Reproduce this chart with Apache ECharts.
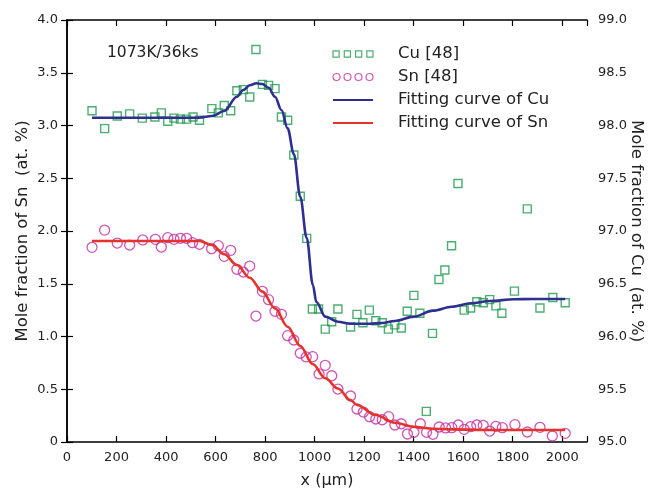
<!DOCTYPE html>
<html>
<head>
<meta charset="utf-8">
<script src="https://cdn.jsdelivr.net/npm/echarts@6/dist/echarts.min.js"></script>
<style>html,body{margin:0;padding:0;background:#fff}#c{width:650px;height:488px}</style>
</head>
<body>
<div id="c"></div>
<script>
// ---- data ----
const cuX = [101,152,203,253,304,355,381,407,432,458,483,509,535,585,611,635,661,686,712,738,763,789,814,840,866,891,916,942,968,991,1016,1043,1069,1094,1145,1171,1195,1221,1247,1273,1298,1324,1350,1374,1401,1425,1451,1476,1502,1526,1553,1579,1604,1630,1655,1681,1707,1732,1756,1807,1859,1910,1962,2012];
const cuY = [98.14,97.97,98.09,98.11,98.07,98.08,98.12,98.04,98.07,98.06,98.06,98.08,98.05,98.16,98.12,98.19,98.14,98.33,98.34,98.27,98.72,98.39,98.38,98.35,98.08,98.05,97.72,97.33,96.93,96.26,96.26,96.07,96.14,96.26,96.09,96.21,96.13,96.25,96.15,96.13,96.07,96.11,96.08,96.24,96.39,96.22,95.29,96.03,96.54,96.63,96.86,97.45,96.25,96.27,96.33,96.32,96.35,96.29,96.22,96.43,97.21,96.27,96.37,96.32];
const snX = [101,152,203,253,306,357,381,407,432,458,483,507,535,584,611,635,661,686,712,738,763,789,814,840,866,891,916,942,966,992,1018,1043,1069,1094,1145,1171,1197,1222,1247,1273,1299,1324,1350,1375,1401,1427,1452,1478,1503,1529,1554,1580,1604,1630,1655,1681,1707,1732,1758,1809,1859,1910,1960,2012];
const snY = [1.845,2.009,1.886,1.867,1.915,1.921,1.848,1.937,1.921,1.931,1.931,1.889,1.874,1.832,1.861,1.760,1.817,1.637,1.611,1.668,1.194,1.428,1.349,1.239,1.210,1.008,0.967,0.841,0.806,0.809,0.645,0.727,0.628,0.502,0.436,0.313,0.284,0.240,0.218,0.211,0.240,0.161,0.173,0.076,0.092,0.173,0.092,0.073,0.142,0.133,0.136,0.161,0.120,0.145,0.161,0.158,0.104,0.149,0.136,0.164,0.095,0.139,0.057,0.082];
const cuFitX = [101,535,585,635,686,712,738,765,789,814,840,866,891,916,942,968,993,1007,1043,1094,1145,1222,1273,1324,1401,1478,1554,1631,1707,1807,1881,2012];
const cuFitY = [98.074,98.074,98.09,98.137,98.273,98.336,98.381,98.40,98.393,98.358,98.273,98.147,97.973,97.73,97.325,96.934,96.488,96.327,96.188,96.14,96.121,96.121,96.128,96.147,96.188,96.245,96.282,96.315,96.336,96.353,96.355,96.355];
const snFitX = [101,535,585,635,686,738,789,840,891,942,992,1043,1094,1145,1171,1247,1324,1401,1478,1554,1707,2012];
const snFitY = [1.905,1.905,1.867,1.779,1.678,1.557,1.425,1.267,1.093,0.910,0.739,0.604,0.507,0.398,0.351,0.256,0.183,0.145,0.126,0.120,0.114,0.114];
const seriesNames = ['Cu [48]','Sn [48]','Fitting curve of Cu','Fitting curve of Sn'];
const titleText = '1073K/36ks';
const xName = 'x (μm)';
const yLeftName = 'Mole fraction of Sn  (at. %)';
const yRightName = 'Mole fraction of Cu  (at. %)';

const zip = (a, b) => a.map((v, i) => [v, b[i]]);
const FONT = 'DejaVu Sans';
const TXT = '#222';
const axisLineStyle = { color: '#000', width: 1.5 };
const tickStyle = { show: true, inside: true, length: 6, lineStyle: { color: '#000', width: 1.2 } };
const hideSymbol = { color: 'transparent', borderColor: 'transparent', borderWidth: 0 };

const chart = echarts.init(document.getElementById('c'), null, { renderer: 'canvas' });
chart.setOption({
  animation: false,
  backgroundColor: '#fff',
  textStyle: { fontFamily: FONT },
  title: {
    text: titleText, left: 102, top: 40,
    textStyle: { fontFamily: FONT, fontSize: 15.5, fontWeight: 'normal', color: TXT }
  },
  grid: { left: 67, right: 63, top: 20, bottom: 46, containLabel: false, outerBoundsMode: 'none' },
  legend: {
    orient: 'vertical', left: 332, top: 45, padding: 0, selectedMode: false,
    itemWidth: 40, itemHeight: 8, itemGap: 5,
    textStyle: { fontFamily: FONT, fontSize: 16.5, color: TXT, lineHeight: 18, padding: [0, 0, 0, 20] },
    itemStyle: { borderWidth: 1.2 },
    data: [
      { name: seriesNames[0], icon: 'path://M0,0h6v6h-6z M11,0h6v6h-6z M22,0h6v6h-6z M33,0h6v6h-6z' },
      { name: seriesNames[1], icon: 'path://M7,3.5A3.5,3.5 0 1 1 0,3.5A3.5,3.5 0 1 1 7,3.5Z M18,3.5A3.5,3.5 0 1 1 11,3.5A3.5,3.5 0 1 1 18,3.5Z M29,3.5A3.5,3.5 0 1 1 22,3.5A3.5,3.5 0 1 1 29,3.5Z M40,3.5A3.5,3.5 0 1 1 33,3.5A3.5,3.5 0 1 1 40,3.5Z' },
      { name: seriesNames[2], itemStyle: hideSymbol },
      { name: seriesNames[3], itemStyle: hideSymbol }
    ]
  },
  xAxis: [
    {
      type: 'value', min: 0, max: 2100, interval: 200, position: 'bottom',
      name: xName, nameLocation: 'middle', nameGap: 31, nameMoveOverlap: false,
      nameTextStyle: { fontFamily: FONT, fontSize: 16, color: TXT },
      axisLine: { lineStyle: axisLineStyle },
      axisTick: tickStyle,
      axisLabel: { fontFamily: FONT, fontSize: 13, color: TXT, margin: 9,
        formatter: v => (v % 200 === 0 ? String(v) : '') },
      splitLine: { show: false }
    },
    {
      type: 'value', min: 0, max: 2100, interval: 200, position: 'top',
      axisLine: { lineStyle: axisLineStyle },
      axisTick: tickStyle,
      axisLabel: { show: false },
      splitLine: { show: false }
    }
  ],
  yAxis: [
    {
      type: 'value', min: 0, max: 4, interval: 0.5, position: 'left',
      name: yLeftName, nameLocation: 'middle', nameGap: 36, nameMoveOverlap: false,
      nameTextStyle: { fontFamily: FONT, fontSize: 16.5, color: TXT },
      axisLine: { show: true, lineStyle: axisLineStyle },
      axisTick: tickStyle,
      axisLabel: { fontFamily: FONT, fontSize: 13, color: TXT, margin: 9,
        formatter: v => (v === 0 ? '0' : v.toFixed(1)) },
      splitLine: { show: false }
    },
    {
      type: 'value', min: 95, max: 99, interval: 0.5, position: 'right',
      name: yRightName, nameLocation: 'middle', nameGap: 41, nameRotate: -90, nameMoveOverlap: false,
      nameTextStyle: { fontFamily: FONT, fontSize: 16.5, color: TXT },
      axisLine: { show: true, lineStyle: axisLineStyle },
      axisTick: tickStyle,
      axisLabel: { fontFamily: FONT, fontSize: 13, color: TXT, margin: 11,
        formatter: v => v.toFixed(1) },
      splitLine: { show: false }
    }
  ],
  series: [
    {
      name: seriesNames[0], type: 'scatter', xAxisIndex: 0, yAxisIndex: 1,
      data: zip(cuX, cuY), symbol: 'rect', symbolSize: 8,
      itemStyle: { color: 'transparent', borderColor: '#1f9a4c', borderWidth: 1.4 },
      z: 2
    },
    {
      name: seriesNames[1], type: 'scatter', xAxisIndex: 0, yAxisIndex: 0,
      data: zip(snX, snY), symbol: 'circle', symbolSize: 10,
      itemStyle: { color: 'transparent', borderColor: '#c42ba0', borderWidth: 1.3 },
      z: 2
    },
    {
      name: seriesNames[2], type: 'line', xAxisIndex: 0, yAxisIndex: 1,
      data: zip(cuFitX, cuFitY), smooth: 0.35, smoothMonotone: 'x', symbol: 'none',
      lineStyle: { color: '#2e2f8f', width: 2.6 }, itemStyle: { color: '#2e2f8f' },
      z: 3
    },
    {
      name: seriesNames[3], type: 'line', xAxisIndex: 0, yAxisIndex: 0,
      data: zip(snFitX, snFitY), smooth: 0.35, smoothMonotone: 'x', symbol: 'none',
      lineStyle: { color: '#e5322b', width: 2.6 }, itemStyle: { color: '#e5322b' },
      z: 3
    }
  ]
});
</script>
</body>
</html>
